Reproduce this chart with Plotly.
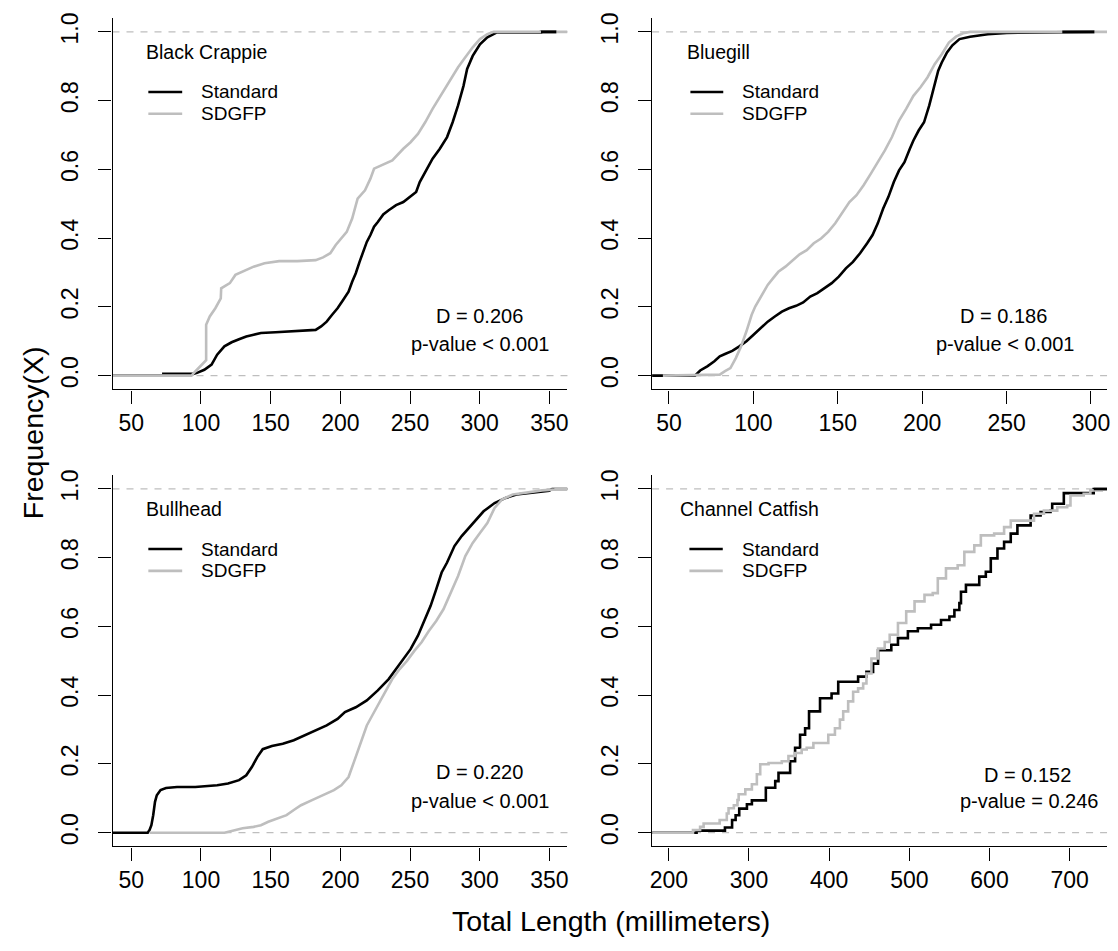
import plotly.graph_objects as go

# ---------------- data ----------------
species = ["Black Crappie", "Bluegill", "Bullhead", "Channel Catfish"]
d_stats = ["D = 0.206", "D = 0.186", "D = 0.220", "D = 0.152"]
p_values = ["p-value < 0.001", "p-value < 0.001", "p-value < 0.001", "p-value = 0.246"]
series_names = ["Standard", "SDGFP"]

x_ranges = [[36.5, 363], [40, 309.5], [36.5, 363], [179.1, 746.6]]
x_ticks = [[50, 100, 150, 200, 250, 300, 350],
           [50, 100, 150, 200, 250, 300],
           [50, 100, 150, 200, 250, 300, 350],
           [200, 300, 400, 500, 600, 700]]
y_ticks = [0.0, 0.2, 0.4, 0.6, 0.8, 1.0]
y_tick_labels = ["0.0", "0.2", "0.4", "0.6", "0.8", "1.0"]

# Black Crappie
crappie_std_x = [36.5, 73, 73, 94.5, 97.2, 102.4, 107.6, 111.6, 116.8, 122.0, 127.3, 132.5, 137.8, 143.0,
                 153.5, 164.0, 174.5, 182.3, 186.2, 190.2, 194.1, 198.0, 202.0, 205.9, 208.5, 211.1,
                 213.8, 216.4, 219.0, 221.6, 224.2, 226.9, 230.8, 234.7, 240.0, 245.2, 250.4, 254.4,
                 257.0, 260.9, 266.2, 271.4, 276.6, 280.6, 284.5, 288.4, 291.0, 295.0, 300.2, 305.5,
                 312.0, 344.0, 344.0, 355.0]
crappie_std_y = [0, 0, 0.005, 0.005, 0.008, 0.017, 0.032, 0.061, 0.085, 0.097, 0.106, 0.114, 0.119, 0.124,
                 0.126, 0.129, 0.131, 0.133, 0.143, 0.157, 0.177, 0.196, 0.220, 0.244, 0.273, 0.298,
                 0.331, 0.360, 0.389, 0.409, 0.433, 0.447, 0.469, 0.481, 0.496, 0.505, 0.520, 0.534,
                 0.563, 0.592, 0.631, 0.660, 0.694, 0.737, 0.786, 0.843, 0.892, 0.930, 0.964, 0.984,
                 0.998, 0.998, 1.0, 1.0]
crappie_sdg_x = [36.5, 93.2, 95.9, 99.8, 102.4, 103.7, 103.7, 106.3, 110.3, 114.2, 114.5, 116.8, 120.7,
                 124.7, 129.9, 137.8, 145.6, 156.1, 169.2, 182.3, 187.6, 192.8, 196.7, 200.7, 204.6,
                 208.5, 212.4, 217.7, 221.6, 224.2, 229.5, 237.3, 245.2, 250.4, 255.7, 260.9, 266.2,
                 271.4, 276.6, 284.5, 289.7, 295.0, 300.2, 305.5, 310.0, 363.0]
crappie_sdg_y = [0, 0, 0.012, 0.027, 0.037, 0.045, 0.148, 0.172, 0.196, 0.225, 0.254, 0.259, 0.269,
                 0.293, 0.302, 0.317, 0.327, 0.333, 0.333, 0.336, 0.344, 0.356, 0.380, 0.399, 0.418,
                 0.457, 0.515, 0.539, 0.573, 0.602, 0.612, 0.626, 0.660, 0.679, 0.703, 0.737, 0.776,
                 0.810, 0.843, 0.897, 0.926, 0.955, 0.979, 0.993, 1.0, 1.0]

# Bluegill
bluegill_std_x = [40, 65.4, 68.5, 72.7, 76.9, 80.1, 83.2, 87.5, 91.7, 95.9, 100.1, 104.3, 108.5, 112.7,
                  116.9, 121.1, 125.3, 129.5, 133.7, 137.9, 142.2, 146.4, 150.6, 154.8, 159.0, 163.2,
                  167.4, 170.6, 173.7, 176.9, 180.0, 183.2, 186.3, 189.5, 192.7, 194.8, 197.9, 201.1,
                  204.2, 207.4, 209.5, 211.6, 214.7, 217.9, 222.1, 228.4, 234.7, 238.9, 250.0, 283.0,
                  283.0, 302.0]
bluegill_std_y = [0, 0.0, 0.015, 0.027, 0.042, 0.056, 0.063, 0.072, 0.085, 0.100, 0.119, 0.138, 0.157,
                  0.172, 0.186, 0.196, 0.203, 0.213, 0.230, 0.240, 0.254, 0.269, 0.288, 0.312, 0.331,
                  0.356, 0.385, 0.409, 0.443, 0.486, 0.520, 0.563, 0.597, 0.621, 0.660, 0.684, 0.713,
                  0.737, 0.786, 0.843, 0.887, 0.911, 0.940, 0.961, 0.979, 0.986, 0.990, 0.993, 0.997,
                  0.998, 1.0, 1.0]
bluegill_sdg_x = [46.4, 80.1, 83.2, 86.4, 89.6, 92.7, 95.9, 99.0, 101.1, 104.3, 108.5, 111.6, 114.8,
                  119.0, 123.2, 127.4, 131.6, 135.8, 140.1, 144.3, 148.5, 152.7, 156.9, 161.1, 165.3,
                  169.5, 173.7, 177.9, 182.1, 186.3, 190.5, 194.8, 199.0, 203.2, 207.4, 211.6, 215.8,
                  220.0, 224.2, 228.4, 309.5]
bluegill_sdg_y = [0, 0.003, 0.013, 0.022, 0.051, 0.085, 0.129, 0.177, 0.201, 0.230, 0.264, 0.283,
                  0.302, 0.317, 0.336, 0.353, 0.365, 0.385, 0.399, 0.418, 0.443, 0.476, 0.505, 0.525,
                  0.554, 0.587, 0.621, 0.655, 0.694, 0.742, 0.776, 0.814, 0.839, 0.868, 0.906, 0.935,
                  0.969, 0.986, 0.996, 1.0, 1.0]

# Bullhead
bullhead_std_x = [36.5, 61.8, 63.1, 64.4, 65.7, 67.0, 68.3, 71.0, 74.9, 82.8, 95.9, 106.3, 111.6, 119.4,
                  127.3, 132.5, 136.5, 140.4, 144.3, 150.9, 158.7, 166.6, 174.5, 182.3, 190.2, 198.0,
                  203.3, 211.1, 219.0, 226.9, 234.7, 240.0, 245.2, 250.4, 255.7, 260.9, 264.8, 268.8,
                  272.7, 276.6, 281.9, 287.1, 292.4, 297.6, 302.8, 310.7, 318.6, 326.4, 336.9, 350.0,
                  352.0, 363.0]
bullhead_std_y = [0, 0, 0.008, 0.022, 0.051, 0.090, 0.109, 0.124, 0.130, 0.133, 0.133, 0.136, 0.138,
                  0.143, 0.153, 0.167, 0.191, 0.220, 0.243, 0.252, 0.259, 0.269, 0.283, 0.298, 0.312,
                  0.331, 0.351, 0.365, 0.385, 0.414, 0.447, 0.476, 0.505, 0.534, 0.573, 0.621, 0.660,
                  0.708, 0.757, 0.786, 0.834, 0.863, 0.887, 0.911, 0.935, 0.959, 0.974, 0.984, 0.988,
                  0.995, 1.0, 1.0]
bullhead_sdg_x = [63.1, 116.8, 122.0, 129.9, 137.8, 143.0, 148.3, 156.1, 161.4, 166.6, 171.8, 179.7,
                  187.6, 195.4, 200.7, 205.9, 209.8, 212.4, 215.1, 219.0, 222.9, 226.9, 232.1, 237.3,
                  242.6, 247.8, 253.1, 258.3, 263.5, 268.8, 274.0, 279.3, 284.5, 289.7, 295.0, 300.2,
                  305.5, 310.7, 315.9, 323.8, 334.3, 344.8, 352.6, 355.0, 363.0]
bullhead_sdg_y = [0, 0, 0.005, 0.013, 0.017, 0.022, 0.032, 0.043, 0.051, 0.066, 0.080, 0.095, 0.109,
                  0.124, 0.138, 0.162, 0.206, 0.235, 0.264, 0.312, 0.341, 0.370, 0.409, 0.447, 0.476,
                  0.500, 0.529, 0.554, 0.587, 0.616, 0.650, 0.699, 0.747, 0.805, 0.843, 0.872, 0.901,
                  0.945, 0.969, 0.984, 0.990, 0.996, 0.998, 1.0, 1.0]

# Channel Catfish (step points: jump location, level after the jump)
catfish_std_x = [179.1, 234.6, 270.0, 278.9, 283.3, 287.8, 297.4, 303.6, 321.0, 332.7, 336.8, 351.3,
                 357.5, 363.7, 370.0, 374.9, 388.6, 403.0, 411.3, 436.1, 446.5, 454.8, 461.0, 477.5,
                 485.8, 498.2, 510.6, 527.1, 539.5, 550.0, 556.2, 562.4, 564.4, 570.6, 587.2, 595.4,
                 601.6, 609.9, 618.2, 626.5, 634.8, 651.3, 663.7, 676.1, 678.2, 692.7, 730.0, 746.6]
catfish_std_y = [0, 0.006, 0.015, 0.037, 0.051, 0.070, 0.083, 0.094, 0.131, 0.150, 0.174, 0.208,
                 0.247, 0.285, 0.304, 0.353, 0.391, 0.405, 0.439, 0.454, 0.468, 0.492, 0.531, 0.547,
                 0.566, 0.586, 0.595, 0.605, 0.619, 0.629, 0.648, 0.668, 0.701, 0.721, 0.745, 0.759,
                 0.798, 0.827, 0.846, 0.870, 0.894, 0.923, 0.933, 0.937, 0.957, 0.988, 1.0, 1.0]
catfish_sdg_x = [179.1, 230.1, 239.0, 243.4, 263.4, 272.3, 274.5, 281.1, 285.6, 287.1, 295.4, 303.6,
                 309.8, 314.0, 324.4, 340.9, 349.2, 357.5, 365.7, 372.0, 380.3, 398.9, 407.2, 413.4,
                 417.5, 423.7, 429.9, 436.1, 442.4, 446.5, 452.7, 461.0, 469.3, 475.5, 485.8, 496.1,
                 506.5, 518.9, 529.2, 535.5, 545.7, 560.3, 568.6, 581.0, 589.2, 605.8, 618.2, 626.5,
                 655.5, 667.9, 684.5, 696.9, 701.0, 717.5, 725.8, 740.0, 746.6]
catfish_sdg_y = [0, 0.008, 0.017, 0.027, 0.037, 0.056, 0.071, 0.080, 0.095, 0.112, 0.126, 0.141,
                 0.170, 0.199, 0.203, 0.208, 0.223, 0.232, 0.242, 0.247, 0.261, 0.285, 0.304, 0.329,
                 0.353, 0.382, 0.410, 0.420, 0.434, 0.463, 0.507, 0.536, 0.555, 0.576, 0.610, 0.644,
                 0.673, 0.692, 0.697, 0.740, 0.769, 0.778, 0.817, 0.836, 0.865, 0.870, 0.889, 0.908,
                 0.928, 0.937, 0.947, 0.952, 0.981, 0.986, 0.996, 1.0, 1.0]

std_x = [crappie_std_x, bluegill_std_x, bullhead_std_x, catfish_std_x]
std_y = [crappie_std_y, bluegill_std_y, bullhead_std_y, catfish_std_y]
sdg_x = [crappie_sdg_x, bluegill_sdg_x, bullhead_sdg_x, catfish_sdg_x]
sdg_y = [crappie_sdg_y, bluegill_sdg_y, bullhead_sdg_y, catfish_sdg_y]
line_shapes = ["linear", "linear", "linear", "hv"]
std_tail_visible = [True, True, False, True]

# ---------------- layout geometry (pixels) ----------------
W, H = 1118, 951
FONT = "Liberation Sans, Arial, sans-serif"
BLACK = "#000000"
GRAY = "#BEBEBE"


def fx(p):
    return p / W


def fy(p):
    return 1 - p / H


col_px = [(111, 568), (653, 1110)]
row_px = [(12.2, 385.8), (472.2, 845.8)]
panel_pos = [(0, 0), (0, 1), (1, 0), (1, 1)]  # (row, col)

fig = go.Figure()
shapes = []
annotations = []

for i in range(4):
    r, c = panel_pos[i]
    xa = "x" if i == 0 else f"x{i+1}"
    ya = "y" if i == 0 else f"y{i+1}"
    xkey = "xaxis" if i == 0 else f"xaxis{i+1}"
    ykey = "yaxis" if i == 0 else f"yaxis{i+1}"

    fig.add_trace(go.Scatter(x=std_x[i], y=std_y[i], mode="lines", name=series_names[0],
                             line=dict(color=BLACK, width=2.6, shape=line_shapes[i]),
                             xaxis=xa, yaxis=ya, showlegend=False, hoverinfo="skip"))
    fig.add_trace(go.Scatter(x=sdg_x[i], y=sdg_y[i], mode="lines", name=series_names[1],
                             line=dict(color=GRAY, width=2.6, shape=line_shapes[i]),
                             xaxis=xa, yaxis=ya, showlegend=False, hoverinfo="skip"))
    if std_tail_visible[i]:
        fig.add_trace(go.Scatter(x=std_x[i][-2:], y=std_y[i][-2:], mode="lines", name=series_names[0],
                                 line=dict(color=BLACK, width=2.6, shape=line_shapes[i]),
                                 xaxis=xa, yaxis=ya, showlegend=False, hoverinfo="skip"))

    x0p, x1p = col_px[c]
    y0p, y1p = row_px[r]
    fig.layout[xkey] = dict(
        domain=[fx(x0p), fx(x1p)], range=x_ranges[i], anchor=ya,
        tickvals=x_ticks[i], ticks="outside", ticklen=13, tickwidth=1.3, tickcolor=BLACK,
        showline=True, linecolor=BLACK, linewidth=1.3, showgrid=False, zeroline=False,
        tickfont=dict(family=FONT, size=23, color=BLACK), ticklabelstandoff=0,
    )
    fig.layout[ykey] = dict(
        domain=[fy(y1p), fy(y0p)], range=[-0.04, 1.04], anchor=xa,
        tickvals=y_ticks, ticktext=y_tick_labels, tickangle=-90,
        ticks="outside", ticklen=13, tickwidth=1.3, tickcolor=BLACK,
        showline=True, linecolor=BLACK, linewidth=1.3, showgrid=False, zeroline=False,
        tickfont=dict(family=FONT, size=23, color=BLACK), ticklabelstandoff=11,
    )

    # dashed reference lines at 0 and 1
    for yv in (0, 1):
        shapes.append(dict(type="line", xref=f"{xa} domain", yref=ya, x0=0, x1=1, y0=yv, y1=yv,
                           line=dict(color=GRAY, width=1.3, dash="7px,7px"), layer="below"))

    # panel labels and legend
    title_left = [142.5, 686, 142.5, 679][i]
    leg_x0 = [147, 691.5, 147, 690.5][i]
    leg_x1 = [181, 724.5, 181, 724][i]
    leg_tx = [198, 741, 198, 741][i]
    oy = 0 if r == 0 else 460
    annotations.append(dict(text=species[i], x=fx(title_left), y=fy(46 + oy), xref="paper", yref="paper",
                            xanchor="left", yanchor="middle", showarrow=False,
                            font=dict(family=FONT, size=19.5, color=BLACK)))
    for k, (ly, col) in enumerate([(86.5, BLACK), (108.5, GRAY)]):
        shapes.append(dict(type="line", xref="paper", yref="paper", x0=fx(leg_x0), x1=fx(leg_x1),
                           y0=fy(ly + oy), y1=fy(ly + oy), line=dict(color=col, width=2.6)))
        annotations.append(dict(text=series_names[k], x=fx(leg_tx), y=fy(ly + oy), xref="paper", yref="paper",
                                xanchor="left", yanchor="middle", showarrow=False,
                                font=dict(family=FONT, size=19, color=BLACK)))
    # KS statistics
    dcx = [479.5, 1006.5, 479.5, 1030][i]
    pcx = [480, 1007.5, 480, 1031.5][i]
    dy = [312, 312, 771, 774][i]
    pyv = [340, 340, 800, 800][i]
    annotations.append(dict(text=d_stats[i], x=fx(dcx), y=fy(dy), xref="paper", yref="paper",
                            xanchor="center", yanchor="middle", showarrow=False,
                            font=dict(family=FONT, size=20, color=BLACK)))
    annotations.append(dict(text=p_values[i], x=fx(pcx), y=fy(pyv), xref="paper", yref="paper",
                            xanchor="center", yanchor="middle", showarrow=False,
                            font=dict(family=FONT, size=20, color=BLACK)))

# shared axis titles
annotations.append(dict(text="Total Length (millimeters)", x=fx(612), y=fy(921), xref="paper", yref="paper",
                        xanchor="center", yanchor="middle", showarrow=False,
                        font=dict(family=FONT, size=28.5, color=BLACK)))
annotations.append(dict(text="Frequency(X)", x=fx(31), y=fy(429), xref="paper", yref="paper",
                        xanchor="center", yanchor="middle", showarrow=False, textangle=-90,
                        font=dict(family=FONT, size=28.5, color=BLACK)))

fig.update_layout(
    width=W, height=H, margin=dict(l=0, r=0, t=0, b=0),
    paper_bgcolor="white", plot_bgcolor="white",
    shapes=shapes, annotations=annotations, showlegend=False,
)

fig.write_html("out.html", config={"displayModeBar": False},
               post_script="document.body.style.margin='0';document.body.style.overflow='hidden';")
